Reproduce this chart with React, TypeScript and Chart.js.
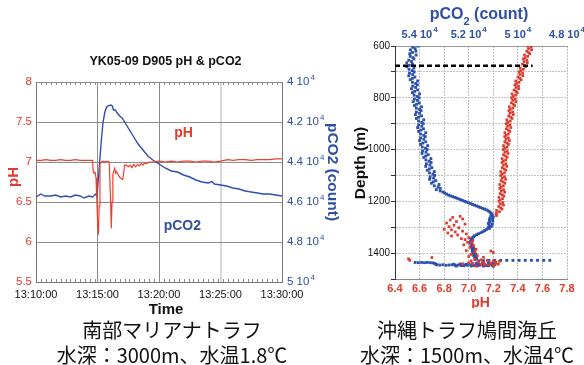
import React, { useEffect, useRef } from 'react';
import { Chart, registerables } from 'chart.js';

Chart.register(...registerables);

const FONT = '"Liberation Sans", Arial, Helvetica, sans-serif';
const RED = '#e23a2c';
const BLUE = '#2f4fa6';

// ---------- Left chart: time series ----------
const timeTicks = [0, 5, 10, 15, 20]; // minutes after 13:10:00
const timeLabels = ['13:10:00', '13:15:00', '13:20:00', '13:25:00', '13:30:00'];
const phTicks = [5.5, 6, 6.5, 7, 7.5, 8];
const pco2Ticks = [4, 4.2, 4.4, 4.6, 4.8, 5]; // x 10^4 counts

const phTime = [0, 0.4, 0.8, 1.2, 1.6, 2.0, 2.4, 2.8, 3.2, 3.6, 4.0, 4.4, 4.6, 4.65, 4.72, 4.8, 4.88, 4.95, 5.03, 5.08, 5.13, 5.2, 5.3, 5.45, 5.6, 5.75, 5.95, 6.05, 6.12, 6.18, 6.25, 6.32, 6.4, 6.48, 6.56, 6.66, 6.76, 6.86, 6.95, 7.05, 7.12, 7.2, 7.35, 7.5, 7.65, 7.8, 7.95, 8.1, 8.25, 8.4, 8.55, 8.7, 8.85, 9.0, 9.2, 9.5, 10.0, 10.5, 11.0, 11.5, 12.0, 12.5, 13.0, 13.5, 14.0, 14.5, 15.0, 15.3, 15.6, 16.0, 16.5, 17.0, 17.5, 18.0, 18.5, 19.0, 19.5, 20.0];
const phValues = [7.02, 7.02, 7.03, 7.02, 7.02, 7.03, 7.02, 7.02, 7.03, 7.02, 7.02, 7.02, 7.02, 6.88, 6.86, 6.87, 6.8, 6.5, 6.15, 6.12, 6.45, 6.98, 7.0, 7.01, 7.0, 7.01, 7.0, 6.6, 6.17, 6.5, 6.85, 6.88, 6.92, 6.86, 6.88, 6.85, 6.82, 6.8, 6.79, 6.78, 6.85, 6.96, 6.96, 6.94, 6.96, 6.93, 6.97, 6.94, 6.97, 6.95, 6.98, 6.96, 6.99, 6.98, 7.0, 7.0, 7.01, 7.0, 7.01, 7.0, 7.01, 7.01, 7.0, 7.01, 7.01, 7.0, 7.01, 7.02, 7.03, 7.02, 7.03, 7.03, 7.02, 7.03, 7.03, 7.03, 7.04, 7.04];

const pco2Time = [0, 0.4, 0.7, 1.2, 1.6, 2.0, 2.4, 2.8, 3.2, 3.6, 3.9, 4.3, 4.6, 4.85, 4.95, 5.05, 5.15, 5.3, 5.45, 5.6, 5.75, 5.9, 6.1, 6.2, 6.3, 6.45, 6.6, 6.8, 7.0, 7.3, 7.6, 7.9, 8.3, 8.7, 9.1, 9.5, 10.0, 10.5, 11.0, 11.5, 12.0, 12.5, 13.0, 13.5, 14.0, 14.3, 14.5, 15.0, 15.5, 16.0, 16.5, 17.0, 17.5, 18.0, 18.5, 19.0, 19.5, 20.0];
const pco2Values = [4.575, 4.56, 4.57, 4.57, 4.565, 4.575, 4.57, 4.575, 4.565, 4.57, 4.58, 4.57, 4.575, 4.56, 4.57, 4.5, 4.42, 4.3, 4.2, 4.15, 4.125, 4.118, 4.115, 4.12, 4.14, 4.14, 4.155, 4.17, 4.18, 4.21, 4.24, 4.27, 4.31, 4.34, 4.37, 4.39, 4.41, 4.43, 4.445, 4.45, 4.465, 4.475, 4.49, 4.5, 4.505, 4.498, 4.51, 4.515, 4.52, 4.53, 4.535, 4.545, 4.55, 4.555, 4.56, 4.56, 4.565, 4.57];

// ---------- Right chart: depth profiles ----------
const depthTicks = [600, 700, 800, 900, 1000, 1100, 1200, 1300, 1400, 1500];
const depthLabelValues = [600, 800, 1000, 1200, 1400];
const phAxisTicks = [6.4, 6.6, 6.8, 7.0, 7.2, 7.4, 7.6, 7.8];
const pco2AxisTicks = [5.4, 5.2, 5.0, 4.8]; // x 10^4 counts
const cutDepth = 676;
const cutRange = [6.4, 7.52];

// [depth m, pCO2 x10^4]
const blueProfile: [number, number][] = [
  [600, 5.406], [605, 5.428], [610, 5.418], [615, 5.437], [620, 5.415], [625, 5.429], [630, 5.44], [635, 5.414], [640, 5.438], [645, 5.427],
  [650, 5.423], [655, 5.444], [660, 5.433], [665, 5.452], [670, 5.429], [675, 5.442], [680, 5.452], [685, 5.423], [690, 5.443], [695, 5.43],
  [700, 5.422], [705, 5.441], [710, 5.428], [715, 5.444], [720, 5.419], [725, 5.429], [730, 5.438], [735, 5.408], [740, 5.429], [745, 5.416],
  [750, 5.409], [755, 5.428], [760, 5.416], [765, 5.433], [770, 5.408], [775, 5.42], [780, 5.429], [785, 5.4], [790, 5.422], [795, 5.409],
  [800, 5.402], [805, 5.421], [810, 5.409], [815, 5.426], [820, 5.401], [825, 5.412], [830, 5.421], [835, 5.392], [840, 5.413], [845, 5.4],
  [850, 5.394], [855, 5.413], [860, 5.4], [865, 5.417], [870, 5.392], [875, 5.404], [880, 5.413], [885, 5.383], [890, 5.404], [895, 5.391],
  [900, 5.385], [905, 5.404], [910, 5.391], [915, 5.408], [920, 5.384], [925, 5.395], [930, 5.404], [935, 5.375], [940, 5.396], [945, 5.383],
  [950, 5.377], [955, 5.396], [960, 5.383], [965, 5.4], [970, 5.375], [975, 5.387], [980, 5.396], [985, 5.367], [990, 5.389], [995, 5.376],
  [1000, 5.369], [1005, 5.388], [1010, 5.374], [1015, 5.39], [1020, 5.365], [1025, 5.375], [1030, 5.383], [1035, 5.354], [1040, 5.374], [1045, 5.361],
  [1050, 5.353], [1055, 5.372], [1060, 5.358], [1065, 5.375], [1070, 5.35], [1075, 5.36], [1080, 5.369], [1085, 5.34], [1090, 5.36], [1095, 5.346],
  [1100, 5.339], [1105, 5.357], [1110, 5.343], [1115, 5.359], [1120, 5.334], [1125, 5.344], [1130, 5.352], [1135, 5.321], [1140, 5.34], [1145, 5.325],
  [1150, 5.316], [1155, 5.332], [1160, 5.316],
  [1164, 5.305], [1168, 5.298], [1172, 5.29], [1176, 5.282], [1179, 5.274], [1182, 5.265], [1185, 5.256], [1188, 5.248], [1191, 5.24], [1194, 5.232],
  [1197, 5.224], [1200, 5.216], [1203, 5.208], [1206, 5.2], [1209, 5.192], [1212, 5.184], [1215, 5.176], [1218, 5.168], [1221, 5.16], [1224, 5.152],
  [1227, 5.144], [1230, 5.136], [1233, 5.128], [1237, 5.12], [1241, 5.114], [1245, 5.11], [1249, 5.106], [1253, 5.104], [1257, 5.11], [1261, 5.1],
  [1265, 5.114], [1269, 5.103], [1273, 5.116], [1277, 5.102], [1281, 5.114], [1285, 5.12], [1289, 5.104], [1293, 5.117], [1297, 5.108], [1301, 5.12],
  [1305, 5.116], [1309, 5.128], [1313, 5.135], [1317, 5.142], [1321, 5.15], [1325, 5.16], [1329, 5.168], [1333, 5.176], [1337, 5.18], [1341, 5.186],
  [1345, 5.19], [1349, 5.184], [1353, 5.192], [1357, 5.188], [1361, 5.195], [1365, 5.186], [1369, 5.19], [1373, 5.182], [1377, 5.19], [1381, 5.18],
  [1385, 5.186], [1389, 5.178], [1393, 5.185], [1397, 5.175], [1401, 5.182], [1405, 5.172], [1409, 5.18], [1413, 5.17], [1417, 5.176], [1421, 5.168], [1425, 5.174],
];
const blueBottom: [number, number][] = [
  [1436, 5.418], [1437, 5.405], [1436, 5.392], [1437, 5.38], [1436, 5.368], [1437, 5.356], [1438, 5.345], [1440, 5.338], [1443, 5.334], [1445, 5.33],
  [1446, 5.318], [1445, 5.305], [1447, 5.292], [1446, 5.28], [1445, 5.268], [1447, 5.255], [1446, 5.242], [1448, 5.23], [1446, 5.218], [1447, 5.205],
  [1445, 5.192], [1448, 5.18], [1446, 5.168], [1447, 5.155], [1445, 5.142], [1448, 5.13], [1446, 5.118], [1447, 5.105], [1445, 5.095],
  [1443, 5.26], [1442, 5.235], [1443, 5.21], [1441, 5.185], [1443, 5.16], [1442, 5.135], [1441, 5.115], [1450, 5.25], [1449, 5.22], [1450, 5.19],
  [1449, 5.165], [1450, 5.14], [1449, 5.12], [1451, 5.1], [1439, 5.17], [1438, 5.145], [1439, 5.12], [1440, 5.1],
  [1430, 5.16], [1429, 5.14], [1428, 5.118], [1428, 5.095], [1428, 5.07], [1428, 5.045], [1428, 5.02], [1428, 4.995], [1428, 4.97], [1428, 4.945],
  [1428, 4.92], [1428, 4.895], [1428, 4.87],
];
// [depth m, pH]
const redProfile: [number, number][] = [
  [600, 7.48], [605, 7.509], [610, 7.487], [615, 7.512], [620, 7.472], [625, 7.487], [630, 7.497], [635, 7.454], [640, 7.48], [645, 7.459],
  [650, 7.445], [655, 7.474], [660, 7.452], [665, 7.477], [670, 7.438], [675, 7.452], [680, 7.463], [685, 7.419], [690, 7.445], [695, 7.424],
  [700, 7.41], [705, 7.438], [710, 7.416], [715, 7.441], [720, 7.401], [725, 7.416], [730, 7.427], [735, 7.383], [740, 7.41], [745, 7.389],
  [750, 7.376], [755, 7.405], [760, 7.384], [765, 7.408], [770, 7.369], [775, 7.384], [780, 7.395], [785, 7.353], [790, 7.381], [795, 7.361],
  [800, 7.348], [805, 7.378], [810, 7.358], [815, 7.384], [820, 7.346], [825, 7.362], [830, 7.374], [835, 7.331], [840, 7.359], [845, 7.339],
  [850, 7.327], [855, 7.357], [860, 7.337], [865, 7.363], [870, 7.325], [875, 7.341], [880, 7.353], [885, 7.31], [890, 7.338], [895, 7.318],
  [900, 7.306], [905, 7.336], [910, 7.316], [915, 7.343], [920, 7.306], [925, 7.322], [930, 7.335], [935, 7.294], [940, 7.323], [945, 7.304],
  [950, 7.293], [955, 7.323], [960, 7.304], [965, 7.331], [970, 7.294], [975, 7.311], [980, 7.324], [985, 7.283], [990, 7.312], [995, 7.293],
  [1000, 7.282], [1005, 7.313], [1010, 7.294], [1015, 7.32], [1020, 7.283], [1025, 7.3], [1030, 7.313], [1035, 7.272], [1040, 7.301], [1045, 7.282],
  [1050, 7.271], [1055, 7.302], [1060, 7.283], [1065, 7.31], [1070, 7.273], [1075, 7.29], [1080, 7.302], [1085, 7.261], [1090, 7.29], [1095, 7.271],
  [1100, 7.26], [1105, 7.291], [1110, 7.273], [1115, 7.3], [1120, 7.263], [1125, 7.28], [1130, 7.294], [1135, 7.253], [1140, 7.282], [1145, 7.264],
  [1150, 7.253], [1155, 7.284], [1160, 7.265], [1165, 7.293], [1170, 7.256], [1175, 7.273], [1180, 7.286], [1185, 7.246], [1190, 7.275], [1195, 7.256],
  [1200, 7.246], [1205, 7.277], [1210, 7.258], [1215, 7.283], [1220, 7.244], [1225, 7.26], [1230, 7.271], [1235, 7.227], [1240, 7.25], [1245, 7.225],
  [1250, 7.223], [1255, 7.226],
];
const redScatter: [number, number][] = [
  [1258, 6.93], [1262, 6.87], [1268, 6.95], [1272, 6.85], [1278, 6.9], [1284, 6.82], [1288, 6.97], [1292, 6.88], [1298, 6.84], [1302, 6.92],
  [1308, 6.8], [1310, 6.86], [1315, 6.95], [1318, 6.89], [1322, 6.83], [1326, 6.98], [1330, 6.91], [1334, 6.86], [1340, 7.0], [1344, 6.94],
  [1348, 6.97], [1352, 7.03], [1358, 6.99], [1362, 7.02], [1368, 6.96], [1372, 7.04], [1378, 7.01], [1385, 7.06], [1390, 6.98], [1395, 7.05],
  [1392, 7.18], [1398, 7.2], [1405, 7.02], [1410, 7.07], [1413, 7.0], [1416, 7.12], [1417, 6.7], [1422, 6.51], [1428, 6.52],
  [1424, 7.05], [1426, 7.1], [1428, 7.15], [1430, 7.2], [1432, 7.25], [1434, 7.08], [1436, 7.12], [1438, 7.18], [1440, 7.22], [1442, 7.03],
  [1444, 7.1], [1446, 7.16], [1448, 7.2], [1450, 7.06], [1437, 7.0], [1441, 6.95], [1445, 7.13], [1430, 7.02], [1434, 7.22], [1443, 7.24],
];

type Part = { text: string; font: string; dy?: number };
type TextItem = {
  text?: string; parts?: Part[]; font?: string; color: string;
  x?: number; y?: number; xv?: number; yv?: number; xAxis?: string; yAxis?: string; rotate?: number;
};
type SciTicks = { axis: string; values: number[]; font: string; supFont: string; color: string; x?: number; y?: number };

const textPlugin = {
  id: 'texts',
  afterDraw(chart: any, _args: any, opts: any) {
    const ctx = chart.ctx as CanvasRenderingContext2D;
    const minor = opts.minor;
    if (minor) {
      const { left, right, top, bottom } = chart.chartArea;
      ctx.save();
      ctx.strokeStyle = minor.color;
      ctx.lineWidth = 1;
      ctx.beginPath();
      for (let i = 1; i < minor.count; i++) {
        const x = Math.round(left + ((right - left) * i) / minor.count) + 0.5;
        ctx.moveTo(x, top); ctx.lineTo(x, top + minor.len);
        ctx.moveTo(x, bottom); ctx.lineTo(x, bottom - minor.len);
      }
      ctx.stroke();
      ctx.restore();
    }
    // tick labels of the form "4.2 10^4" with a real superscript
    (opts.sci || []).forEach((s: SciTicks) => {
      const scale = chart.scales[s.axis];
      ctx.save();
      ctx.fillStyle = s.color;
      ctx.textBaseline = 'middle';
      ctx.textAlign = 'left';
      s.values.forEach((v) => {
        const base = `${v} 10`;
        ctx.font = s.font;
        const wb = ctx.measureText(base).width;
        ctx.font = s.supFont;
        const ws = ctx.measureText('4').width;
        let sx: number;
        let sy: number;
        if (scale.isHorizontal()) {
          sx = scale.getPixelForValue(v) - (wb + ws + 1) / 2;
          sy = s.y ?? 0;
        } else {
          sx = s.x ?? 0;
          sy = scale.getPixelForValue(v);
        }
        ctx.font = s.font;
        ctx.fillText(base, sx, sy);
        ctx.font = s.supFont;
        ctx.fillText('4', sx + wb + 1, sy - 4.5);
      });
      ctx.restore();
    });
    (opts.items || []).forEach((t: TextItem) => {
      let x = t.x ?? 0;
      let y = t.y ?? 0;
      if (t.xv !== undefined) x = chart.scales[t.xAxis || 'x'].getPixelForValue(t.xv);
      if (t.yv !== undefined) y = chart.scales[t.yAxis || 'y'].getPixelForValue(t.yv);
      ctx.save();
      ctx.translate(x, y);
      if (t.rotate) ctx.rotate(t.rotate);
      ctx.fillStyle = t.color;
      ctx.textBaseline = 'middle';
      if (t.parts) {
        let total = 0;
        t.parts.forEach((p) => { ctx.font = p.font; total += ctx.measureText(p.text).width; });
        let cx = -total / 2;
        ctx.textAlign = 'left';
        t.parts.forEach((p) => {
          ctx.font = p.font;
          ctx.fillText(p.text, cx, p.dy || 0);
          cx += ctx.measureText(p.text).width;
        });
      } else {
        ctx.font = t.font || `12px ${FONT}`;
        ctx.textAlign = 'center';
        ctx.fillText(t.text || '', 0, 0);
      }
      ctx.restore();
    });
  },
};

const setTicks = (vals: number[]) => (s: any) => { s.ticks = vals.map((v) => ({ value: v })); };

export default function App() {
  const leftRef = useRef<HTMLCanvasElement>(null);
  const rightRef = useRef<HTMLCanvasElement>(null);

  useEffect(() => {
    Chart.defaults.font.family = FONT;
    const left = new Chart(leftRef.current as HTMLCanvasElement, {
      type: 'line',
      data: {
        datasets: [
          {
            label: 'pH',
            data: phTime.map((t, i) => ({ x: t, y: phValues[i] })),
            yAxisID: 'y',
            borderColor: '#ec3f2e',
            borderWidth: 1.2,
            pointRadius: 0,
            tension: 0,
          },
          {
            label: 'pCO2',
            data: pco2Time.map((t, i) => ({ x: t, y: pco2Values[i] })),
            yAxisID: 'y2',
            borderColor: '#2f4fb0',
            borderWidth: 1.4,
            pointRadius: 0,
            tension: 0,
          },
        ],
      },
      options: {
        responsive: false,
        animation: false,
        layout: { padding: { top: 82, left: 0, right: 0, bottom: 0 } },
        plugins: {
          legend: { display: false },
          tooltip: { enabled: false },
          // @ts-ignore
          texts: {
            minor: { count: 50, len: 3, color: '#888' },
            sci: [
              { axis: 'y2', values: pco2Ticks, font: `11.5px ${FONT}`, supFont: `8px ${FONT}`, color: BLUE, x: 287 },
            ],
            items: [
              { text: 'YK05-09 D905 pH & pCO2', x: 165.5, y: 62, font: `bold 12.5px ${FONT}`, color: '#111' },
              { text: 'pH', x: 14, y: 177, rotate: -Math.PI / 2, font: `bold 15px ${FONT}`, color: RED },
              { text: 'pCO2 (count)', x: 332.5, y: 172, rotate: Math.PI / 2, font: `bold 15.5px ${FONT}`, color: BLUE },
              { text: 'Time', x: 166, y: 310, font: `bold 15px ${FONT}`, color: '#111' },
              { text: 'pH', xv: 12, yv: 7.36, font: `bold 14px ${FONT}`, color: RED },
              { text: 'pCO2', xv: 11.9, yv: 4.72, yAxis: 'y2', font: `bold 14px ${FONT}`, color: BLUE },
            ],
          },
        },
        scales: {
          x: {
            type: 'linear',
            min: 0,
            max: 20,
            afterBuildTicks: setTicks(timeTicks),
            afterFit: (s: any) => { s.height = 38; },
            ticks: {
              callback: (_v: any, i: number) => timeLabels[i],
              font: { size: 11 },
              color: '#111',
              padding: 6,
              maxRotation: 0,
              autoSkip: false,
            },
            grid: {
              drawTicks: false,
              color: (c: any) => (c.tick && c.tick.value === 15 ? '#d8d8d8' : '#8a8a8a'),
              lineWidth: (c: any) => (c.tick && c.tick.value === 15 ? 2 : 1),
            },
            border: { color: '#777' },
          },
          y: {
            type: 'linear',
            min: 5.5,
            max: 8,
            afterBuildTicks: setTicks(phTicks),
            afterFit: (s: any) => { s.width = 36; },
            ticks: { color: RED, font: { size: 11.5 }, padding: 4, callback: (v: any) => String(v) },
            grid: { drawTicks: false, color: '#8c8c8c' },
            border: { color: '#777' },
          },
          y2: {
            type: 'linear',
            position: 'right',
            min: 4,
            max: 5,
            reverse: true,
            afterBuildTicks: setTicks(pco2Ticks),
            afterFit: (s: any) => { s.width = 62; },
            ticks: { color: BLUE, font: { size: 11 }, padding: 4, callback: () => '' },
            grid: { drawOnChartArea: false, drawTicks: false },
            border: { color: '#777' },
          },
        },
      },
      plugins: [textPlugin],
    } as any);

    const right = new Chart(rightRef.current as HTMLCanvasElement, {
      type: 'scatter',
      data: {
        datasets: [
          {
            label: 'cut',
            data: [{ x: cutRange[0], y: cutDepth }, { x: cutRange[1], y: cutDepth }],
            xAxisID: 'x',
            yAxisID: 'y',
            showLine: true,
            borderColor: '#000',
            borderWidth: 2.5,
            borderDash: [5, 3],
            pointRadius: 0,
            order: 0,
          },
          {
            label: 'pH',
            data: [...redProfile, ...redScatter].map(([d, v]) => ({ x: v, y: d })),
            xAxisID: 'x',
            yAxisID: 'y',
            backgroundColor: '#e0392c',
            pointStyle: 'rect',
            pointRadius: 1.9,
            borderWidth: 0,
            order: 1,
          },
          {
            label: 'pCO2',
            data: [...blueProfile, ...blueBottom].map(([d, v]) => ({ x: v, y: d })),
            xAxisID: 'x2',
            yAxisID: 'y',
            backgroundColor: '#2a4fad',
            pointStyle: 'rect',
            pointRadius: 2,
            borderWidth: 0,
            order: 2,
          },
        ],
      },
      options: {
        responsive: false,
        animation: false,
        layout: { padding: { top: 0, left: 0, right: 17, bottom: 0 } },
        plugins: {
          legend: { display: false },
          tooltip: { enabled: false },
          // @ts-ignore
          texts: {
            sci: [
              { axis: 'x2', values: pco2AxisTicks, font: `bold 11px ${FONT}`, supFont: `bold 8px ${FONT}`, color: BLUE, y: 34.5 },
            ],
            items: [
              {
                parts: [
                  { text: 'pCO', font: `bold 16px ${FONT}` },
                  { text: '2', font: `bold 11px ${FONT}`, dy: 7 },
                  { text: ' (count)', font: `bold 16px ${FONT}` },
                ],
                x: 139, y: 15, color: BLUE,
              },
              { text: 'Depth (m)', x: 21, y: 163, rotate: -Math.PI / 2, font: `bold 15.5px ${FONT}`, color: '#111' },
              { text: 'pH', x: 140.5, y: 303, font: `bold 14px ${FONT}`, color: RED },
            ],
          },
        },
        scales: {
          x: {
            type: 'linear',
            position: 'bottom',
            min: 6.4,
            max: 7.8,
            afterBuildTicks: setTicks(phAxisTicks),
            afterFit: (s: any) => { s.height = 41; },
            ticks: { color: RED, font: { size: 11, weight: 'bold' }, padding: 3, callback: (v: any) => Number(v).toFixed(1) },
            grid: { drawTicks: false, color: '#bdbdbd' },
            border: { color: '#888', dash: [2, 1] },
          },
          x2: {
            type: 'linear',
            position: 'top',
            min: 4.8,
            max: 5.5,
            reverse: true,
            afterBuildTicks: setTicks(pco2AxisTicks),
            afterFit: (s: any) => { s.height = 46; },
            ticks: { color: BLUE, font: { size: 11, weight: 'bold' }, padding: 5, callback: () => '' },
            grid: { drawOnChartArea: false, drawTicks: false },
            border: { color: '#999' },
          },
          y: {
            type: 'linear',
            min: 600,
            max: 1500,
            reverse: true,
            afterBuildTicks: setTicks(depthTicks),
            afterFit: (s: any) => { s.width = 55; },
            ticks: {
              color: '#111',
              font: { size: 10 },
              padding: 1,
              callback: (v: any) => (depthLabelValues.includes(Number(v)) ? String(v) : ''),
            },
            grid: { color: '#c2c2c2', tickColor: '#333', tickLength: 4 },
            border: { color: '#333', dash: [2, 1] },
          },
        },
      },
      plugins: [textPlugin],
    } as any);

    return () => {
      left.destroy();
      right.destroy();
    };
  }, []);

  const capStyle: React.CSSProperties = {
    position: 'absolute',
    width: 300,
    textAlign: 'center',
    fontFamily: '"Noto Sans CJK JP", "Noto Sans", sans-serif',
    fontSize: 20,
    lineHeight: '25px',
    color: '#111',
    whiteSpace: 'nowrap',
  };

  return (
    <div style={{ position: 'fixed', left: 0, top: 0, width: 584, height: 365, background: '#fff', overflow: 'hidden' }}>
      <canvas ref={leftRef} width={344} height={320} style={{ position: 'absolute', left: 0, top: 0 }} />
      <canvas ref={rightRef} width={244} height={320} style={{ position: 'absolute', left: 340, top: 0 }} />
      <div style={{ position: 'absolute', left: 340, top: 308, width: 244, height: 57, background: '#fff' }} />
      <div style={{ ...capStyle, left: 22, top: 317 }}>
        南部マリアナトラフ<br />水深：3000m、水温1.8℃
      </div>
      <div style={{ ...capStyle, left: 317, top: 317 }}>
        沖縄トラフ鳩間海丘<br />水深：1500m、水温4℃
      </div>
    </div>
  );
}
